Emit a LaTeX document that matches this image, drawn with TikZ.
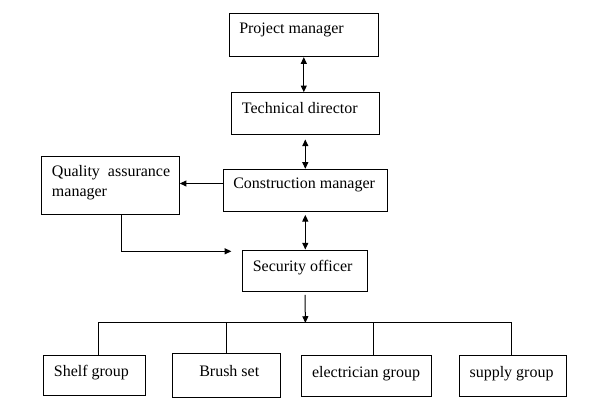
\documentclass[tikz,border=0pt]{standalone}
\usepackage{fontspec}
\setmainfont{Liberation Serif}
\usetikzlibrary{arrows.meta,fit}
\begin{document}
\begin{tikzpicture}[x=0.75pt,y=-0.75pt,
  box/.style={draw,line width=0.75pt,inner sep=0pt,rectangle},
  lbl/.style={anchor=west,inner sep=0pt,font=\fontsize{12}{15}\selectfont},
  conn/.style={line width=0.75pt},
  tip/.style={-{Triangle[length=5pt,width=4.5pt]}},
  both/.style={{Triangle[length=5pt,width=4.5pt]}-{Triangle[length=5pt,width=4.5pt]}}]
\useasboundingbox (0,0) rectangle (600,400);
\fill[white] (0,0) rectangle (600,400);
% boxes
\node[box,fit={(229.3,13.3) (378.3,56)}] (pm) {};
\node[box,fit={(231.3,92.7) (379.3,134.3)}] (td) {};
\node[box,fit={(41.7,156) (179.3,214)}] (qa) {};
\node[box,fit={(223.3,169.3) (387.3,211)}] (cm) {};
\node[box,fit={(242.5,250) (367.5,291.8)}] (so) {};
\node[box,fit={(43.2,355) (145.4,395.7)}] (sg) {};
\node[box,fit={(172.5,353.9) (280.4,397.9)}] (bs) {};
\node[box,fit={(301.4,355) (431.8,396.8)}] (eg) {};
\node[box,fit={(459.3,355) (566.4,396.8)}] (sp) {};
% labels
\node[lbl] (pmt) at (239,30) {Project manager};
\node[lbl] (tdt) at (241.7,108) {Technical director};
\node[lbl] (cmt) at (233,185) {Construction manager};
\node[lbl,align=left] (qat) at (51.7,183) {Quality\hspace{0.5em}assurance\\manager};
\node[lbl] (sot) at (252.5,268) {Security officer};
\node[lbl] (sgt) at (53.6,372.5) {Shelf group};
\node[lbl] (bst) at (199,370.7) {Brush set};
\node[lbl] (egt) at (311.8,373.6) {electrician group};
\node[lbl] (spt) at (469.3,373.6) {supply group};
% connectors
\coordinate (bus) at (305.4,322.9);
\draw[conn,both] ([yshift=-0.5pt]pm.south) -- (pm.south |- td.north);
\draw[conn,both] ([yshift=-3.5pt]td.south) -- (td.south |- cm.north);
\draw[conn,tip] ([yshift=5pt]cm.west) -- ([yshift=5pt]cm.west -| qa.east);
\draw[conn,tip] ([xshift=8.5pt]qa.south) |- ([xshift=-8pt,yshift=-1.35pt]so.north west);
\draw[conn,both] ([yshift=-2.5pt]cm.south) -- (cm.south |- so.north);
\draw[conn,tip] ([yshift=-2pt]so.south) -- (bus);
\draw[conn] ([xshift=2.9pt]sg.north) |- (bus) -| ([xshift=-1.1pt]sp.north);
\draw[conn] (bs.north) -- (bs.north |- bus);
\draw[conn] ([xshift=5.25pt]eg.north) -- ([xshift=5.25pt]eg.north |- bus);
\end{tikzpicture}
\end{document}
